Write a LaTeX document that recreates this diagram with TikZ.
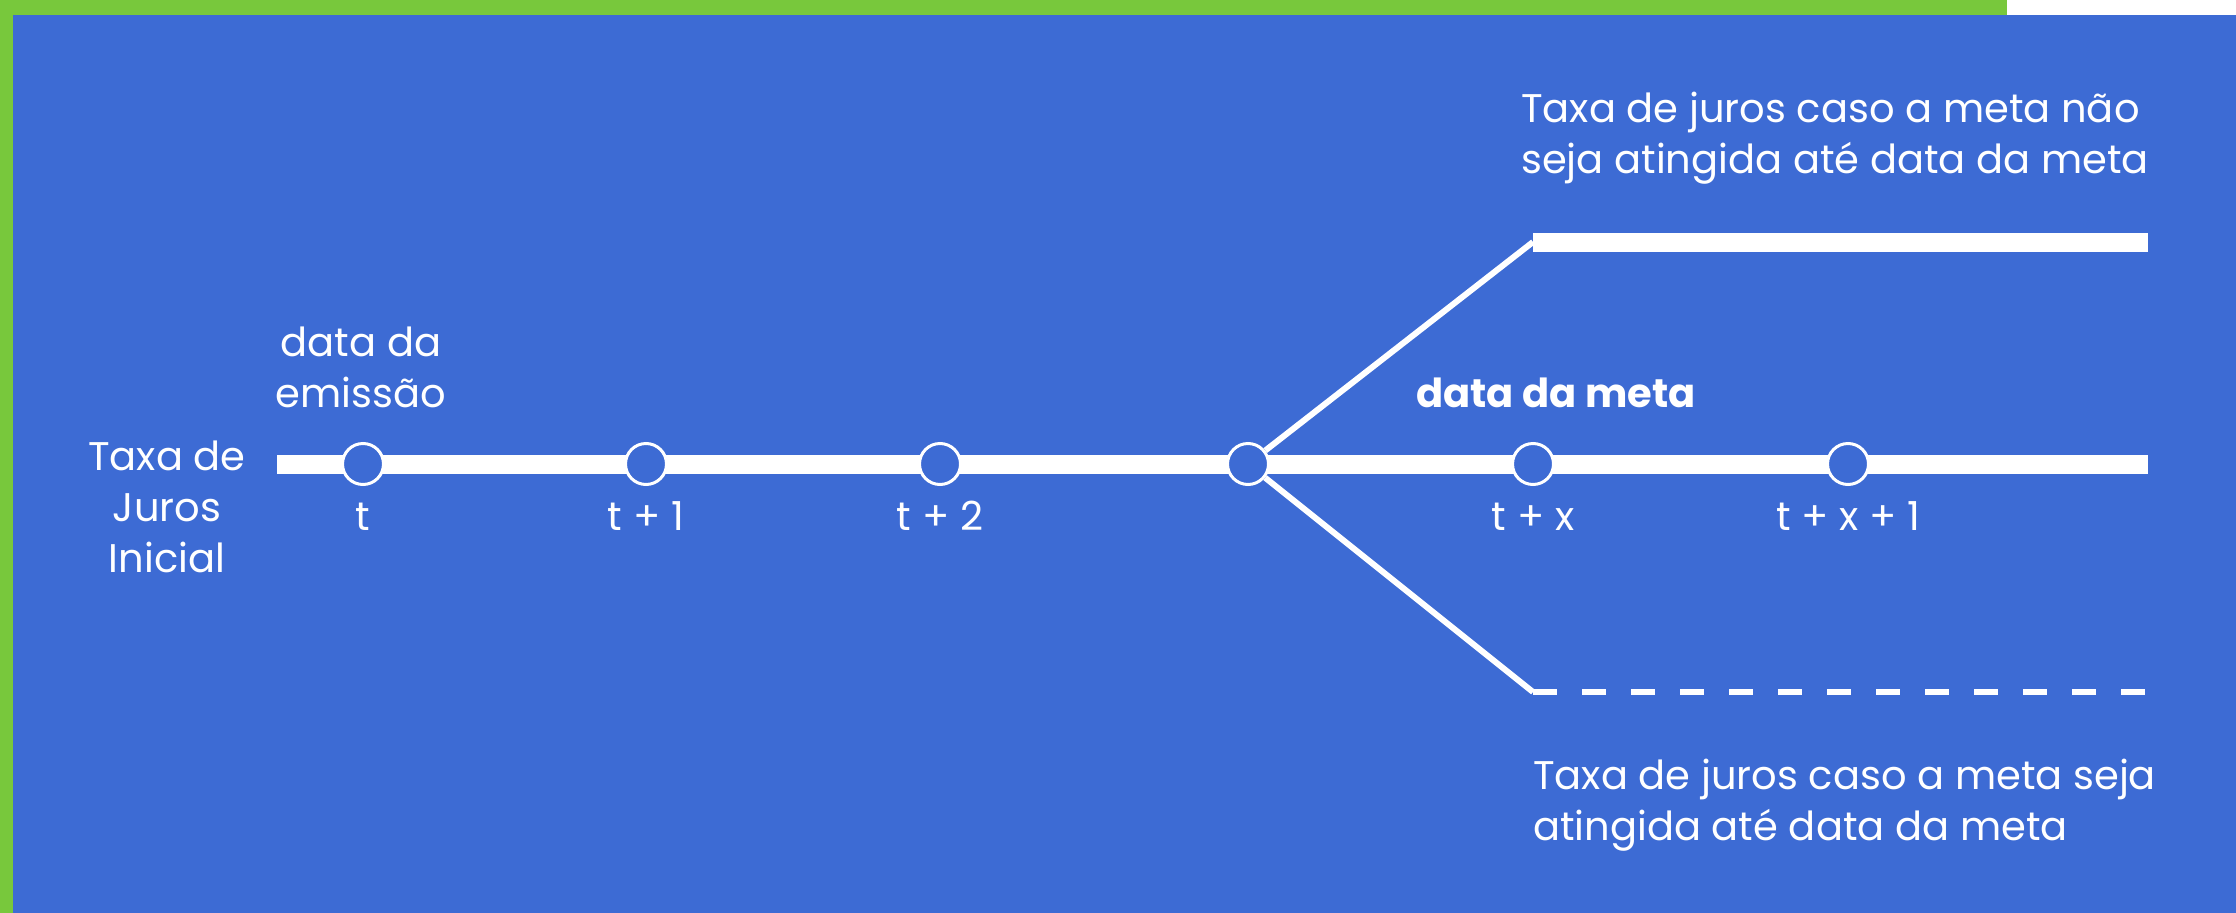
\documentclass[tikz,border=0pt]{standalone}
\usepackage{fontspec}
\setmainfont{Poppins}
\definecolor{bgblue}{RGB}{61,107,212}
\definecolor{leaf}{RGB}{120,200,60}
\begin{document}
\begin{tikzpicture}[x=1pt,y=-1pt,
  txt/.style={text=white,font=\fontsize{40}{51}\selectfont,inner sep=0pt},
  tick/.style={circle,draw=white,line width=3pt,fill=bgblue,minimum size=41pt,inner sep=0pt},
  thick line/.style={white,line width=19pt},
  thin line/.style={white,line width=6pt}]
\useasboundingbox (0,0) rectangle (2236,913);
\fill[bgblue] (0,0) rectangle (2236,913);
\fill[leaf] (0,0) rectangle (13,913);
\fill[leaf] (0,0) rectangle (2007,15);
\fill[white] (2007,0) rectangle (2236,15);
% coordinates
\coordinate (start) at (277,464);
\coordinate (stop) at (2148,464);
\coordinate (up1) at (1533,242);
\coordinate (up2) at (2148,242);
\coordinate (lo1) at (1533,692);
\coordinate (lo2) at (2148,692);
% main line
\draw[thick line] (start) -- (stop);
% ticks
\node[tick] (c1) at (363,464) {};
\node[tick] (c2) at (646,464) {};
\node[tick] (c3) at (940,464) {};
\node[tick] (c4) at (1248,464) {};
\node[tick] (c5) at (1533,464) {};
\node[tick] (c6) at (1848,464) {};
% branches
\draw[thin line] (c4) -- (up1);
\draw[thick line] (up1) -- (up2);
\draw[thin line] (c4) -- (lo1);
\draw[thin line,dash pattern=on 24pt off 25pt] (lo1) -- (lo2);
% labels under ticks
\node[txt,anchor=base] (l1) at (363,530) {t};
\node[txt,anchor=base] (l2) at (646,530) {t + 1};
\node[txt,anchor=base] (l3) at (940,530) {t + 2};
\node[txt,anchor=base] (l5) at (1533,530) {t + x};
\node[txt,anchor=base] (l6) at (1848,530) {t + x + 1};
% other labels
\node[txt,anchor=base,align=center] (em) at (361,407) {data da\\emissão};
\node[txt,anchor=base,align=center] (ini) at (167,572) {Taxa de\\Juros\\Inicial};
\node[txt,anchor=base,font=\fontsize{40}{51}\selectfont\bfseries] (meta) at (1556,407) {data da meta};
\node[txt,anchor=base west,align=left] (nao) at (1521,173) {Taxa de juros caso a meta não\\seja atingida até data da meta};
\node[txt,anchor=base west,align=left] (sim) at (1533,840) {Taxa de juros caso a meta seja\\atingida até data da meta};
\end{tikzpicture}
\end{document}
